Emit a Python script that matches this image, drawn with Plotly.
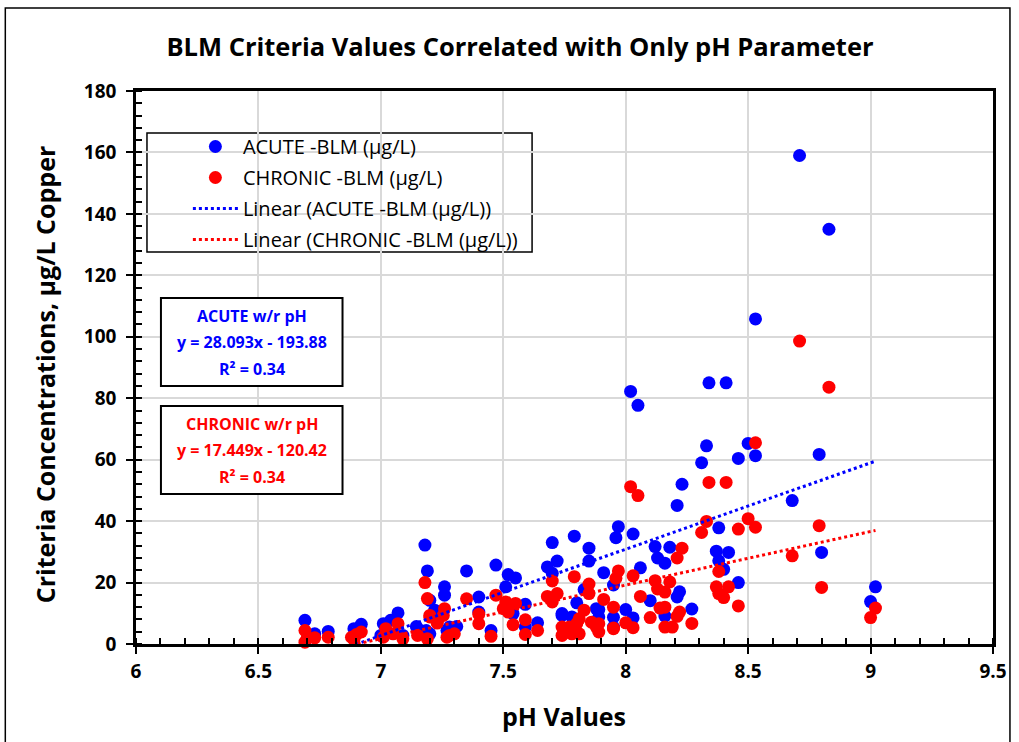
import plotly.graph_objects as go

# ---------------- data ----------------
acute_ph = [8.71, 8.83, 8.53, 8.02, 8.05, 8.34, 8.41,
            8.33, 8.31, 8.50, 8.53, 8.46, 8.79,
            8.23, 8.21, 8.68, 8.38, 8.80, 9.02, 9.00,
            8.37, 8.42, 8.38, 8.40, 8.46,
            8.12, 8.18, 8.13, 8.16,
            7.97, 7.96, 8.03, 7.91, 8.06, 7.95,
            8.22, 8.21, 8.10, 8.00, 7.89, 8.03, 7.95, 8.27, 8.16,
            7.35, 7.47, 7.52, 7.55, 7.51, 7.40, 7.40, 7.45, 7.59, 7.64,
            7.70, 7.79, 7.85, 7.85, 7.72, 7.68, 7.70, 7.83, 7.80, 7.88, 7.74, 7.78, 7.89, 7.95,
            7.54, 7.59, 7.74,
            7.18, 7.19, 7.26, 7.26, 7.22, 7.28, 7.27, 7.20, 7.15, 7.20, 7.31, 7.185,
            6.69, 6.73, 6.785, 6.89, 6.92, 7.01, 7.04, 7.07, 7.00, 7.09, 7.145]
acute_cu = [159.0, 135.0, 105.8, 82.2, 77.7, 85.0, 85.0,
            64.5, 59.0, 65.3, 61.3, 60.4, 61.7,
            52.0, 45.1, 46.7, 37.8, 29.8, 18.6, 13.8,
            30.2, 29.8, 27.1, 24.3, 20.0,
            31.7, 31.5, 28.0, 26.3,
            38.2, 34.6, 35.8, 23.2, 24.8, 19.2,
            17.0, 15.3, 14.1, 11.2, 11.2, 8.5, 8.7, 11.4, 9.1,
            23.8, 25.7, 22.6, 21.5, 18.6, 15.3, 10.4, 4.4, 12.9, 6.9,
            33.0, 35.1, 31.2, 27.0, 27.0, 25.1, 23.0, 17.7, 13.4, 11.5, 9.3, 8.8, 8.8, 5.5,
            9.9, 5.5, 9.9,
            32.2, 23.8, 18.6, 15.9, 11.0, 5.5, 4.4, 3.3, 5.0, 14.2, 5.7, 4.4,
            7.7, 3.3, 4.1, 5.0, 6.4, 6.6, 7.7, 10.1, 2.8, 2.8, 5.7]

chronic_ph = [8.71, 8.83, 8.53, 8.02, 8.05, 8.34, 8.41,
              8.50, 8.53, 8.46, 8.33, 8.31, 8.79, 8.68, 8.80, 9.02, 9.00,
              8.38, 8.37, 8.42, 8.38, 8.40, 8.46,
              8.23, 8.21, 7.97, 7.96, 8.03, 7.91, 8.06,
              8.12, 8.18, 8.13, 8.16, 7.95, 8.10, 8.14, 8.16, 8.22, 8.21, 8.27, 8.16, 8.19,
              7.95, 8.00, 8.03, 7.89, 7.89,
              7.35, 7.47, 7.40, 7.40, 7.45, 7.51, 7.50, 7.52, 7.55, 7.59, 7.54, 7.59, 7.64,
              7.70, 7.79, 7.85, 7.85, 7.68, 7.72, 7.70, 7.83, 7.81, 7.74, 7.77, 7.74, 7.78,
              7.80, 7.81, 7.86, 7.88, 7.95,
              7.18, 7.19, 7.26, 7.20, 7.23, 7.30, 7.27, 7.19, 7.15, 7.20, 7.255, 7.28, 7.23,
              6.69, 6.70, 6.69, 6.73, 6.785, 6.88, 6.89, 6.92, 6.90, 7.07, 7.02, 7.01, 7.05, 7.09]
chronic_cu = [98.6, 83.6, 65.5, 51.2, 48.3, 52.6, 52.6,
              40.8, 38.0, 37.4, 39.9, 36.3, 38.5, 28.7, 18.4, 11.7, 8.6,
              23.6, 18.6, 18.6, 16.4, 15.1, 12.4,
              31.2, 28.0, 23.8, 21.4, 22.2, 14.5, 15.5,
              20.6, 20.2, 17.9, 16.9, 12.0, 8.6, 11.7, 12.0, 10.4, 9.0, 6.7, 5.5, 5.5,
              5.2, 6.9, 5.3, 6.6, 3.9,
              14.7, 15.9, 9.7, 6.6, 2.5, 13.7, 11.5, 10.4, 13.2, 7.9, 6.3, 3.1, 4.4,
              20.5, 21.9, 19.5, 16.4, 15.5, 16.4, 13.7, 11.0, 8.2, 5.5, 5.5, 2.8, 3.3,
              6.6, 3.3, 7.1, 5.5, 5.0,
              20.0, 14.8, 11.5, 9.3, 6.8, 3.3, 2.2, 1.7, 2.8, 8.8, 9.3, 2.8, 7.1,
              4.4, 2.2, 0.6, 2.0, 2.2, 2.2, 1.4, 3.9, 3.1, 6.6, 5.0, 2.2, 3.3, 1.7]

# trendline coefficients as printed on the chart
acute_slope, acute_intercept, acute_r2 = 28.093, -193.88, 0.34
chronic_slope, chronic_intercept, chronic_r2 = 17.449, -120.42, 0.34

x_ticks = [6, 6.5, 7, 7.5, 8, 8.5, 9, 9.5]
x_tick_labels = ["6", "6.5", "7", "7.5", "8", "8.5", "9", "9.5"]
y_ticks = list(range(0, 181, 20))

BLUE = "#0000FF"
RED = "#FF0000"
FONT = "Open Sans"

# ---------------- layout geometry (pixels) ----------------
W, H = 1019, 742
L, R, T, B = 136, 995, 91, 644
PW, PH = R - L, B - T


def px_x(p):
    return (p - L) / PW


def px_y(p):
    return (B - p) / PH


fig = go.Figure()

fig.add_trace(go.Scatter(
    x=acute_ph, y=acute_cu, mode="markers", name="ACUTE -BLM (µg/L)",
    marker=dict(color=BLUE, size=13, line=dict(width=0)),
    legendgroup="a", cliponaxis=False))
fig.add_trace(go.Scatter(
    x=chronic_ph, y=chronic_cu, mode="markers", name="CHRONIC -BLM (µg/L)",
    marker=dict(color=RED, size=13, line=dict(width=0)),
    legendgroup="b", cliponaxis=False))


def trend(xs, slope, intercept):
    x0, x1 = min(xs), max(xs)
    return [x0, x1], [slope * x0 + intercept, slope * x1 + intercept]


tx, ty = trend(acute_ph, acute_slope, acute_intercept)
fig.add_trace(go.Scatter(x=tx, y=ty, mode="lines", name="Linear (ACUTE -BLM (µg/L))",
                         line=dict(color=BLUE, width=3, dash="dot"), legendgroup="c"))
tx, ty = trend(chronic_ph, chronic_slope, chronic_intercept)
fig.add_trace(go.Scatter(x=tx, y=ty, mode="lines", name="Linear (CHRONIC -BLM (µg/L))",
                         line=dict(color=RED, width=3, dash="dot"), legendgroup="d"))

axis_common = dict(
    showline=True, linecolor="black", linewidth=2.5, mirror=True,
    showgrid=True, gridcolor="#D9D9D9", gridwidth=2,
    ticks="outside", ticklen=7, tickwidth=2, tickcolor="black",
    zeroline=False,
    tickfont=dict(family=FONT, size=19, color="black", weight="bold"),
)

fig.update_xaxes(range=[6, 9.5], tickvals=x_ticks, ticktext=x_tick_labels,
                 minor=dict(dtick=0.1, ticks="inside", ticklen=6, tickwidth=2,
                            tickcolor="black", showgrid=False),
                 ticklabelstandoff=1, **axis_common)
fig.update_yaxes(range=[0, 180], tickvals=y_ticks,
                 minor=dict(dtick=4, ticks="inside", ticklen=6, tickwidth=2,
                            tickcolor="black", showgrid=False),
                 ticklabelstandoff=6, **axis_common)

shapes = [
    # outer chart frame
    dict(type="rect", xref="paper", yref="paper",
         x0=px_x(5), x1=px_x(1012), y0=px_y(760), y1=px_y(8),
         line=dict(color="black", width=1.5), fillcolor="rgba(0,0,0,0)", layer="below"),
    # legend frame
    dict(type="rect", xref="paper", yref="paper",
         x0=px_x(147), x1=px_x(533), y0=px_y(252), y1=px_y(133),
         line=dict(color="black", width=1.5), fillcolor="white", layer="below"),
    # equation boxes
    dict(type="rect", xref="paper", yref="paper",
         x0=px_x(161), x1=px_x(343), y0=px_y(386), y1=px_y(298),
         line=dict(color="black", width=2), fillcolor="white", layer="above"),
    dict(type="rect", xref="paper", yref="paper",
         x0=px_x(161), x1=px_x(343), y0=px_y(494), y1=px_y(406),
         line=dict(color="black", width=2), fillcolor="white", layer="above"),
]

annotations = []


def add_text(text, cx, cy, color="black", size=16, angle=0, bold=True):
    annotations.append(dict(
        text=text, xref="paper", yref="paper", x=px_x(cx), y=px_y(cy),
        xanchor="center", yanchor="middle", showarrow=False, textangle=angle,
        font=dict(family=FONT, size=size, color=color, weight="bold" if bold else "normal")))


add_text("ACUTE w/r pH", 252, 316, BLUE, 16)
add_text(f"y = {acute_slope:.3f}x - {abs(acute_intercept):.2f}", 252, 342, BLUE, 16)
add_text(f"R² = {acute_r2:.2f}", 252, 369, BLUE, 16)
add_text("CHRONIC w/r pH", 252, 424, RED, 16)
add_text(f"y = {chronic_slope:.3f}x - {abs(chronic_intercept):.2f}", 252, 450, RED, 16)
add_text(f"R² = {chronic_r2:.2f}", 252, 477, RED, 16)

add_text("pH Values", 565, 716, "black", 25)
add_text("Criteria Concentrations, µg/L Copper", 45, 374, "black", 25, angle=-90)

fig.update_layout(
    width=W, height=H, autosize=False,
    margin=dict(l=L, r=W - R, t=T, b=H - B, pad=0),
    paper_bgcolor="white", plot_bgcolor="white",
    title=dict(text="BLM Criteria Values Correlated with Only pH Parameter",
               x=520 / W, xref="container", xanchor="center",
               y=1 - 47 / H, yref="container", yanchor="middle",
               font=dict(family=FONT, size=25.5, color="black", weight="bold")),
    showlegend=True,
    legend=dict(x=px_x(188), y=px_y(127), xanchor="left", yanchor="top",
                bgcolor="rgba(0,0,0,0)", borderwidth=0,
                font=dict(family=FONT, size=20, color="black"),
                traceorder="grouped", tracegroupgap=2, itemwidth=45),
    shapes=shapes,
    annotations=annotations,
)

fig.write_html("out.html", config={"displayModeBar": False},
               post_script="document.body.style.margin='0';document.body.style.overflow='hidden';")
